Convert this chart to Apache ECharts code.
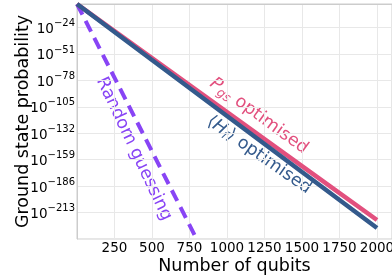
<!DOCTYPE html>
<html>
<head>
<meta charset="utf-8">
<script src="https://cdn.jsdelivr.net/npm/echarts@6/dist/echarts.min.js"></script>
<style>
  html, body { margin: 0; padding: 0; background: #fff; }
  #chart { width: 392px; height: 280px; }
</style>
</head>
<body>
<div id="chart"></div>
<script>
// data: x = number of qubits, y = log10 of ground state probability
const qubits = [0, 500, 1000, 1500, 2000]
const pgsLog = [0, -55.2, -110.3, -165.5, -220.6]
const hfLog = [0, -57.2, -114.4, -171.6, -228.8]
const randomQubits = [0, 400, 800]
const randomLog = [0, -120.4, -240.8]
const yTicks = [-24, -51, -78, -105, -132, -159, -186, -213]

const font = 'DejaVu Sans'
const pink = '#e2507e'
const blue = '#345a8c'
const purple = '#8844f5'

const toPairs = (xs, ys) => xs.map((x, i) => [x, ys[i]])

const chart = echarts.init(document.getElementById('chart'))

const option = {
  animation: false,
  grid: {
    left: 77, right: 0, top: 4, bottom: 41,
    outerBoundsMode: 'none', containLabel: false,
    show: true, borderColor: '#cccccc', borderWidth: 1
  },
  xAxis: {
    type: 'value',
    min: 0,
    max: 2100,
    interval: 250,
    name: 'Number of qubits',
    nameLocation: 'middle',
    nameGap: 18,
    nameMoveOverlap: false,
    nameTextStyle: { fontFamily: font, fontSize: 17.5, color: '#000' },
    axisLine: { show: true, lineStyle: { color: '#cccccc' } },
    axisTick: { show: false },
    axisLabel: {
      fontFamily: font, fontSize: 13.5, color: '#000', margin: 2,
      formatter: v => (v === 0 ? '' : String(v))
    },
    splitLine: { show: true, lineStyle: { color: '#e8e8e8' } }
  },
  yAxis: {
    type: 'value',
    min: -240,
    max: 0,
    interval: 27,
    name: 'Ground state probability',
    nameLocation: 'middle',
    nameGap: 45,
    nameMoveOverlap: false,
    nameTextStyle: { fontFamily: font, fontSize: 17.5, color: '#000' },
    axisLine: { show: true, lineStyle: { color: '#cccccc' } },
    axisTick: { show: false },
    axisLabel: {
      fontFamily: font, color: '#000', margin: 2,
      formatter: v => (yTicks.indexOf(v) < 0 ? '' : '{b|10}{s|\u2212' + Math.abs(v) + '}'),
      rich: {
        b: { fontFamily: font, fontSize: 13.5, lineHeight: 14, color: '#000', padding: [4, 0, 0, 0] },
        s: { fontFamily: font, fontSize: 10, lineHeight: 11, color: '#000', padding: [0, 0, 8, 0] }
      }
    },
    splitLine: { show: true, lineStyle: { color: '#e8e8e8' } }
  },
  series: [
    {
      name: 'Random guessing',
      type: 'line',
      data: toPairs(randomQubits, randomLog),
      showSymbol: false,
      lineStyle: { color: purple, width: 4, type: [12, 7] },
      z: 3
    },
    {
      name: 'Pgs optimised',
      type: 'line',
      data: toPairs(qubits, pgsLog),
      showSymbol: false,
      lineStyle: { color: pink, width: 4.5 },
      z: 4
    },
    {
      name: 'Hf optimised',
      type: 'line',
      data: toPairs(qubits, hfLog),
      showSymbol: false,
      lineStyle: { color: blue, width: 4.5 },
      z: 5
    }
  ],
  graphic: [
    {
      type: 'text', x: 259, y: 116, rotation: -0.63,
      style: {
        text: '{i|P}{s|gs}{p| optimised}',
        align: 'center', verticalAlign: 'middle',
        rich: {
          i: { fontFamily: font, fontSize: 17.5, fontStyle: 'italic', fill: pink },
          p: { fontFamily: font, fontSize: 17.5, fill: pink },
          s: { fontFamily: font, fontSize: 12.5, fontStyle: 'italic', fill: pink, padding: [9, 0, 0, 0] }
        }
      }
    },
    {
      type: 'text', x: 259, y: 155, rotation: -0.61,
      style: {
        text: '{p|\u27e8}{i|H}{s|f}{p|\u27e9 optimised}',
        align: 'center', verticalAlign: 'middle',
        rich: {
          i: { fontFamily: font, fontSize: 17.5, fontStyle: 'italic', fill: blue },
          p: { fontFamily: font, fontSize: 17.5, fill: blue },
          s: { fontFamily: font, fontSize: 12, fontStyle: 'italic', fill: blue, padding: [8, 0, 0, 0] }
        }
      }
    },
    {
      type: 'text', x: 134, y: 149, rotation: -1.13,
      style: {
        text: 'Random guessing',
        align: 'center', verticalAlign: 'middle',
        font: '17.5px "DejaVu Sans"',
        fill: purple
      }
    }
  ]
}

chart.setOption(option)
</script>
</body>
</html>
